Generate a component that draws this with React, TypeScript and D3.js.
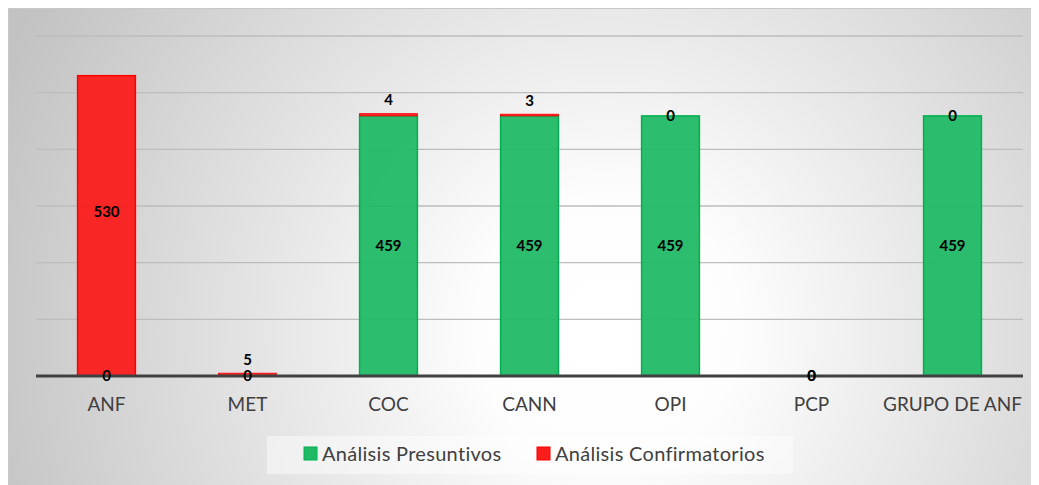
import React, { useEffect, useRef } from 'react'
import * as d3 from 'd3'

const categories = ['ANF', 'MET', 'COC', 'CANN', 'OPI', 'PCP', 'GRUPO DE ANF']
const presuntivos = [0, 0, 459, 459, 459, 0, 459]
const confirmatorios = [530, 5, 4, 3, 0, 0, 0]
const yTicks = [0, 100, 200, 300, 400, 500, 600]
const seriesNames = ['Análisis Presuntivos', 'Análisis Confirmatorios']

const W = 1031
const H = 477
const FONT = 'Lato, "Open Sans", sans-serif'

function App() {
  const ref = useRef<SVGSVGElement | null>(null)

  useEffect(() => {
    const svg = d3.select(ref.current)
    svg.selectAll('*').remove()

    const margin = { left: 28, right: 16, top: 28, bottom: 109 }
    const width = W - margin.left - margin.right
    const height = H - margin.top - margin.bottom

    // background gradient
    const defs = svg.append('defs')
    const grad = defs.append('radialGradient')
      .attr('id', 'bgGrad')
      .attr('gradientUnits', 'userSpaceOnUse')
      .attr('cx', 600).attr('cy', 320).attr('r', 660)
    grad.append('stop').attr('offset', '0%').attr('stop-color', '#ffffff')
    grad.append('stop').attr('offset', '20%').attr('stop-color', '#fdfdfd')
    grad.append('stop').attr('offset', '100%').attr('stop-color', '#c2c2c2')

    svg.append('rect')
      .attr('x', 0.5).attr('y', 0.5)
      .attr('width', W + 10).attr('height', H + 10)
      .attr('fill', 'url(#bgGrad)')
      .attr('stroke', '#c8c8c8')

    const g = svg.append('g').attr('transform', `translate(${margin.left},${margin.top})`)

    const x = d3.scaleBand().domain(categories).range([0, width]).paddingInner(0.59).paddingOuter(0.295)
    const xc = d3.scaleBand().domain(categories).range([0, width])
    const y = d3.scaleLinear().domain([0, 600]).range([height, 0])

    // gridlines
    g.append('g')
      .selectAll('line')
      .data(yTicks.filter(t => t > 0))
      .join('line')
      .attr('x1', 0).attr('x2', width)
      .attr('y1', d => y(d)).attr('y2', d => y(d))
      .attr('stroke', '#bdbdbd')
      .attr('stroke-width', 1.3)

    const rows = categories.map((c, i) => ({ c, p: presuntivos[i], r: confirmatorios[i] }))

    // green segments
    g.append('g')
      .selectAll('rect')
      .data(rows.filter(d => d.p > 0))
      .join('rect')
      .attr('x', d => x(d.c)!)
      .attr('width', x.bandwidth())
      .attr('y', d => y(d.p))
      .attr('height', d => y(0) - y(d.p))
      .attr('fill', '#22b966')
      .attr('fill-opacity', 0.95)
      .attr('stroke', '#00b050')
      .attr('stroke-width', 1.5)

    // red segments
    g.append('g')
      .selectAll('rect')
      .data(rows.filter(d => d.r > 0))
      .join('rect')
      .attr('x', d => x(d.c)!)
      .attr('width', x.bandwidth())
      .attr('y', d => y(d.p + d.r))
      .attr('height', d => y(d.p) - y(d.p + d.r))
      .attr('fill', '#fb1c1c')
      .attr('fill-opacity', 0.95)
      .attr('stroke', '#ff0000')
      .attr('stroke-width', d => d.r > 10 ? 1.5 : 0.8)

    // axis line
    g.append('line')
      .attr('x1', 0).attr('x2', width)
      .attr('y1', y(0)).attr('y2', y(0))
      .attr('stroke', '#404040')
      .attr('stroke-width', 3)

    // category labels
    g.append('g')
      .selectAll('text')
      .data(categories)
      .join('text')
      .attr('x', d => xc(d)! + xc.bandwidth() / 2)
      .attr('y', height + 35)
      .attr('text-anchor', 'middle')
      .attr('font-family', FONT)
      .attr('font-size', 19)
      .attr('fill', '#404040')
      .text(d => d)

    // data labels
    const lab = g.append('g')
      .attr('font-family', FONT)
      .attr('font-size', 15)
      .attr('font-weight', 700)
      .attr('fill', '#000')
      .attr('text-anchor', 'middle')

    lab.selectAll('text.p')
      .data(rows)
      .join('text')
      .attr('class', 'p')
      .attr('x', d => x(d.c)! + x.bandwidth() / 2)
      .attr('y', d => (y(0) + y(d.p)) / 2)
      .attr('dy', '0.36em')
      .text(d => d.p)

    lab.selectAll('text.r')
      .data(rows)
      .join('text')
      .attr('class', 'r')
      .attr('x', d => x(d.c)! + x.bandwidth() / 2)
      .attr('y', d => {
        const top = y(d.p + d.r)
        const bot = y(d.p)
        if (d.r === 0) return top
        if (bot - top < 20) return top - 14
        return (top + bot) / 2 - 14
      })
      .attr('dy', '0.36em')
      .text(d => d.r)

    // legend
    const leg = svg.append('g').attr('transform', 'translate(259,428)')
    leg.append('rect')
      .attr('width', 526).attr('height', 38)
      .attr('fill', '#ffffff').attr('fill-opacity', 0.45)
    const items = [
      { name: seriesNames[0], fill: '#22b966', stroke: '#00b050', x: 37 },
      { name: seriesNames[1], fill: '#fb1c1c', stroke: '#ff0000', x: 270 },
    ]
    items.forEach(it => {
      leg.append('rect')
        .attr('x', it.x).attr('y', 11)
        .attr('width', 13).attr('height', 13)
        .attr('fill', it.fill).attr('stroke', it.stroke).attr('stroke-width', 1)
      leg.append('text')
        .attr('x', it.x + 18).attr('y', 25)
        .attr('font-family', FONT)
        .attr('font-size', 20)
        .attr('letter-spacing', 0.3)
        .attr('fill', '#404040')
        .text(it.name)
    })
  }, [])

  return <svg ref={ref} width={W} height={H} style={{ display: 'block' }} />
}

export default App
